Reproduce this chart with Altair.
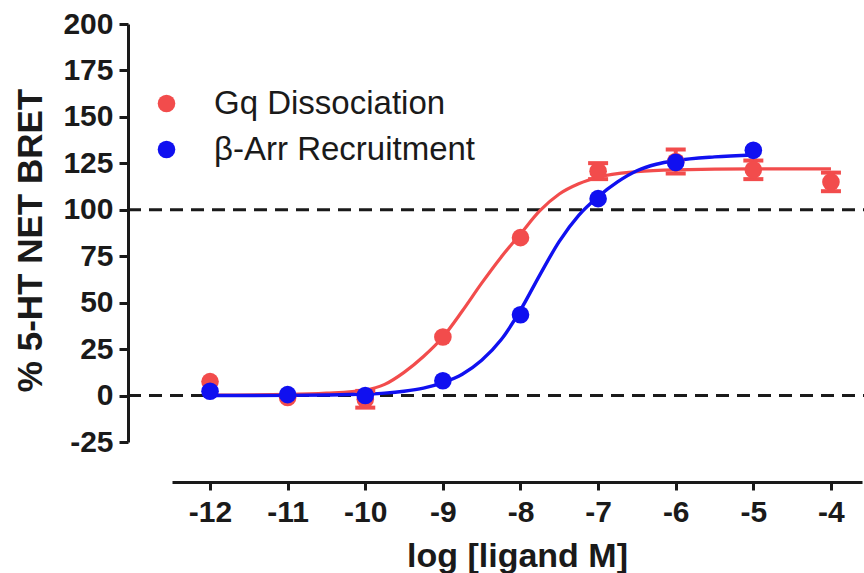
import altair as alt
import pandas as pd

GQ = "Gq Dissociation"
BA = "β-Arr Recruitment"
RED = "#F24C4C"
BLUE = "#1010F0"
INK = "#1a1a1a"
FONT = "Liberation Sans"

# measured points
gq_dose = [-12, -11, -10, -9, -8, -7, -6, -5, -4]
gq_mean = [7.5, -1.0, -2.0, 31.5, 85.0, 120.8, 126.0, 121.5, 115.0]
gq_err = [0, 0, 4.5, 0, 0, 4.3, 6.5, 5.0, 5.0]

ba_dose = [-12, -11, -10, -9, -8, -7, -6, -5]
ba_mean = [2.3, 0.5, 0.0, 8.0, 43.5, 106.0, 125.5, 132.0]

# fitted curves
gq_curve_x = [-12, -11, -10.5, -10, -9.75, -9.5, -9.25, -9, -8.75, -8.5, -8.25,
              -8, -7.75, -7.5, -7.25, -7, -6.5, -6, -5, -4]
gq_curve_y = [0.2, 0.6, 1.3, 3.0, 6.0, 12.5, 21.0, 31.5, 45.5, 60.5, 74.5,
              87.0, 99.5, 108.5, 114.0, 117.5, 120.5, 121.5, 122.0, 122.0]

ba_curve_x = [-12, -11, -10.5, -10, -9.75, -9.5, -9.25, -9, -8.75, -8.5, -8.25,
              -8, -7.75, -7.5, -7.25, -7, -6.75, -6.5, -6.25, -6, -5.5, -5]
ba_curve_y = [0.0, 0.1, 0.3, 0.8, 1.3, 2.3, 4.0, 7.0, 11.5, 19.0, 30.0,
              46.0, 65.0, 83.0, 97.0, 107.0, 115.0, 121.0, 124.5, 126.5, 128.5, 129.5]

ref_levels = [0, 100]
x_ticks = [-12, -11, -10, -9, -8, -7, -6, -5, -4]
y_ticks = [-25, 0, 25, 50, 75, 100, 125, 150, 175, 200]

points = pd.DataFrame(
    [{"dose": d, "resp": m, "series": GQ} for d, m in zip(gq_dose, gq_mean)]
    + [{"dose": d, "resp": m, "series": BA} for d, m in zip(ba_dose, ba_mean)]
)
errs = pd.DataFrame(
    [{"dose": d, "lo": m - e, "hi": m + e, "series": GQ}
     for d, m, e in zip(gq_dose, gq_mean, gq_err) if e > 0]
)
gq_curve = pd.DataFrame({"dose": gq_curve_x, "resp": gq_curve_y})
ba_curve = pd.DataFrame({"dose": ba_curve_x, "resp": ba_curve_y})
refs = pd.DataFrame({"level": ref_levels})

xscale = alt.Scale(domain=[-12.49, -3.6], nice=False, zero=False)
yscale = alt.Scale(domain=[-25, 200], nice=False, zero=False)
cscale = alt.Scale(domain=[GQ, BA], range=[RED, BLUE])

x_axis = alt.Axis(
    values=x_ticks, title="log [ligand M]", offset=40, grid=False,
    tickSize=8, labelPadding=7, titleY=84, titleBaseline="alphabetic",
    titleFontSize=34, labelExpr="'' + datum.value",
)
y_axis = alt.Axis(
    values=y_ticks, title="% 5-HT NET BRET", offset=44, grid=False,
    tickSize=9, labelPadding=6, titleX=-98, titleY=216, titleBaseline="middle",
    titleAlign="center", titleFontSize=35, labelExpr="'' + datum.value",
)

base_x = alt.X("dose:Q", scale=xscale, axis=x_axis)
base_y = alt.Y("resp:Q", scale=yscale, axis=y_axis)

rules = alt.Chart(refs).mark_rule(
    color=INK, strokeWidth=3, strokeDash=[13, 8]
).encode(
    y=alt.Y("level:Q", scale=yscale, axis=y_axis),
    x=alt.value(-44),
    x2=alt.value(692),
)

gq_line = alt.Chart(gq_curve).mark_line(
    interpolate="monotone", strokeWidth=3.2, color=RED
).encode(x=base_x, y=base_y, order="dose:Q")
ba_line = alt.Chart(ba_curve).mark_line(
    interpolate="monotone", strokeWidth=3.4, color=BLUE
).encode(x=base_x, y=base_y, order="dose:Q")

err_rule = alt.Chart(errs).mark_rule(strokeWidth=4, color=RED, opacity=1).encode(
    x=alt.X("dose:Q", scale=xscale, axis=x_axis),
    y=alt.Y("lo:Q", scale=yscale, axis=y_axis),
    y2="hi:Q",
)
err_hi = alt.Chart(errs).mark_tick(
    orient="horizontal", size=20, thickness=4, color=RED, opacity=1
).encode(
    x=alt.X("dose:Q", scale=xscale, axis=x_axis),
    y=alt.Y("hi:Q", scale=yscale, axis=y_axis),
)
err_lo = alt.Chart(errs).mark_tick(
    orient="horizontal", size=20, thickness=4, color=RED, opacity=1
).encode(
    x=alt.X("dose:Q", scale=xscale, axis=x_axis),
    y=alt.Y("lo:Q", scale=yscale, axis=y_axis),
)

dots = alt.Chart(points).mark_circle(size=310, opacity=1).encode(
    x=base_x, y=base_y,
    color=alt.Color(
        "series:N", scale=cscale, sort=[GQ, BA],
        legend=alt.Legend(
            title=None, orient="none", legendX=-22, legendY=63,
            symbolType="circle", symbolSize=310, symbolStrokeWidth=0,
            symbolOpacity=1,
            labelFontSize=33, labelFont=FONT, labelColor=INK, labelLimit=0,
            labelOffset=31, rowPadding=12, padding=0,
        ),
    ),
)

chart = alt.layer(rules, gq_line, ba_line, err_rule, err_hi, err_lo, dots).properties(
    width=690, height=418,
    padding={"left": 172, "top": 24, "right": 2, "bottom": 131},
    autosize=alt.AutoSizeParams(type="none"),
).configure(
    font=FONT,
).configure_view(
    stroke=None,
).configure_axis(
    domainColor=INK, domainWidth=3, tickColor=INK, tickWidth=3,
    labelFont=FONT, labelFontWeight="bold", labelFontSize=30, labelColor=INK,
    titleFont=FONT, titleFontWeight="bold", titleColor=INK,
)

chart.save("out.html", embed_options={"renderer": "svg", "actions": False})
